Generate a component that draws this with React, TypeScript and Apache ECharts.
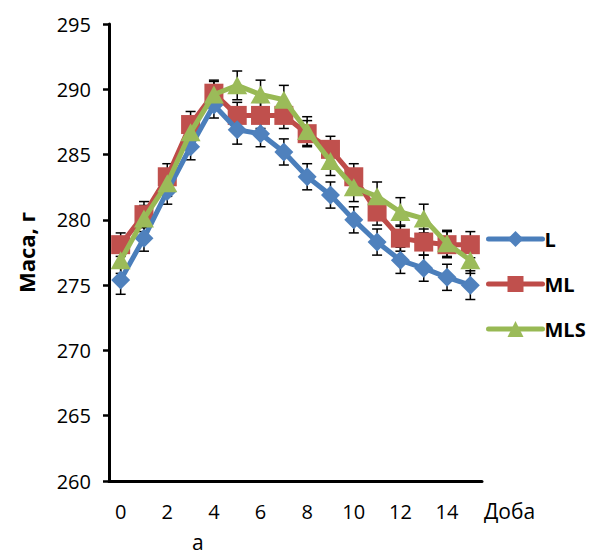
import React, { useEffect, useRef } from "react";
import * as echarts from "echarts";

const days = ["0", "1", "2", "3", "4", "5", "6", "7", "8", "9", "10", "11", "12", "13", "14", "15"];
const seriesL = [275.4, 278.6, 282.2, 285.6, 288.8, 286.9, 286.6, 285.2, 283.3, 281.9, 280.0, 278.3, 276.9, 276.3, 275.6, 275.0];
const seriesML = [278.1, 280.4, 283.3, 287.3, 289.7, 288.0, 288.0, 288.0, 286.6, 285.4, 283.3, 280.6, 278.6, 278.3, 278.1, 278.1];
const seriesMLS = [276.9, 280.1, 282.8, 286.7, 289.6, 290.3, 289.6, 289.2, 286.8, 284.5, 282.5, 281.8, 280.6, 280.1, 278.2, 276.9];
const errL = [1.1, 1.0, 1.0, 1.0, 1.0, 1.1, 1.0, 1.0, 1.0, 1.0, 1.0, 1.0, 1.0, 1.0, 1.0, 1.1];
const errML = [0.9, 1.0, 1.0, 1.0, 1.0, 1.0, 1.0, 1.0, 1.0, 1.0, 1.0, 1.0, 1.0, 1.0, 1.0, 1.0];
const errMLS = [1.0, 1.0, 1.0, 1.0, 1.0, 1.1, 1.1, 1.1, 1.1, 1.1, 1.1, 1.1, 1.1, 1.1, 1.0, 1.0];
const yTicks = { min: 260, max: 295, interval: 5 };

const FONT = "'Open Sans', 'Noto Sans', sans-serif";

function errorData(vals: number[], errs: number[]) {
  return vals.map((v, i) => [i, v - errs[i], v + errs[i]]);
}

function errorSeries(vals: number[], errs: number[]) {
  return {
    type: "custom",
    z: 1,
    silent: true,
    encode: { x: 0, y: [1, 2] },
    data: errorData(vals, errs),
    renderItem: (params: any, api: any) => {
      const x = api.value(0);
      const lo = api.coord([x, api.value(1)]);
      const hi = api.coord([x, api.value(2)]);
      const w = 5;
      const style = { stroke: "#000", lineWidth: 1.5 };
      return {
        type: "group",
        children: [
          { type: "line", shape: { x1: lo[0], y1: lo[1], x2: hi[0], y2: hi[1] }, style },
          { type: "line", shape: { x1: lo[0] - w, y1: lo[1], x2: lo[0] + w, y2: lo[1] }, style },
          { type: "line", shape: { x1: hi[0] - w, y1: hi[1], x2: hi[0] + w, y2: hi[1] }, style },
        ],
      };
    },
  };
}

export default function App() {
  const ref = useRef<HTMLDivElement>(null);
  useEffect(() => {
    if (!ref.current) return;
    const chart = echarts.init(ref.current, null, { renderer: "svg" });
    chart.setOption({
      animation: false,
      backgroundColor: "#fff",
      grid: { left: 109, right: 114, top: 24, bottom: 78 },
      legend: {
        orient: "vertical",
        left: 486,
        top: 229,
        itemWidth: 54,
        itemHeight: 20,
        itemGap: 25,
        padding: 0,
        lineStyle: { width: 5, cap: "round" },
        data: ["L", "ML", "MLS"],
        textStyle: { fontFamily: FONT, fontSize: 20, fontWeight: "bold", color: "#000", padding: [0, 0, 0, -3] },
      },
      xAxis: {
        type: "category",
        data: days,
        boundaryGap: true,
        axisLine: { lineStyle: { color: "#000", width: 3 } },
        axisTick: { interval: 0, length: 6, lineStyle: { color: "#000", width: 2.5 } },
        axisLabel: { interval: 1, margin: 20, fontFamily: FONT, fontSize: 20, color: "#000" },
        splitLine: { show: false },
      },
      yAxis: {
        type: "value",
        min: yTicks.min,
        max: yTicks.max,
        interval: yTicks.interval,
        name: "Маса, г",
        nameLocation: "middle",
        nameGap: 72,
        nameTextStyle: { fontFamily: FONT, fontSize: 22, fontWeight: "bold", color: "#000" },
        axisLine: { show: true, lineStyle: { color: "#000", width: 3 } },
        axisTick: { show: true, length: 6, lineStyle: { color: "#000", width: 2.5 } },
        axisLabel: { margin: 18, fontFamily: FONT, fontSize: 20, color: "#000" },
        splitLine: { show: false },
      },
      graphic: [
        { type: "text", left: 484, top: 500, style: { text: "Доба", fontFamily: FONT, fontSize: 21, fill: "#000" } },
        { type: "text", left: 192, top: 531, style: { text: "а", fontFamily: FONT, fontSize: 21, fill: "#000" } },
      ],
      series: [
        errorSeries(seriesL, errL),
        errorSeries(seriesML, errML),
        errorSeries(seriesMLS, errMLS),
        {
          name: "L",
          type: "line",
          z: 4,
          data: seriesL,
          symbol: "diamond",
          symbolSize: 19,
          showAllSymbol: true,
          lineStyle: { color: "#4A7EBB", width: 5 },
          itemStyle: { color: "#4F81BD" },
        },
        {
          name: "ML",
          type: "line",
          z: 3,
          data: seriesML,
          symbol: "rect",
          symbolSize: 19,
          showAllSymbol: true,
          lineStyle: { color: "#BE4B48", width: 5 },
          itemStyle: { color: "#C0504D" },
        },
        {
          name: "MLS",
          type: "line",
          z: 5,
          data: seriesMLS,
          symbol: "triangle",
          symbolSize: [20, 18],
          showAllSymbol: true,
          lineStyle: { color: "#98B954", width: 5 },
          itemStyle: { color: "#9BBB59" },
        },
      ],
    });
    return () => chart.dispose();
  }, []);
  return <div ref={ref} style={{ position: "fixed", left: 0, top: 0, width: 596, height: 559 }} />;
}
